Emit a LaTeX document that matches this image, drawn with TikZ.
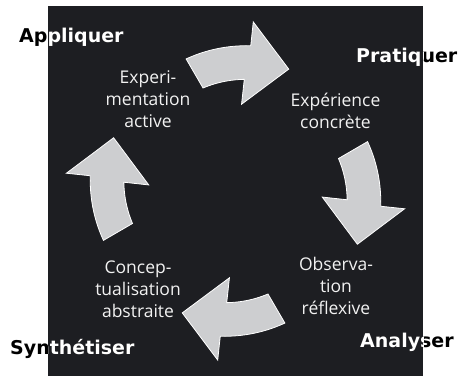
\documentclass[tikz,border=0pt]{standalone}
\usepackage{fontspec}
\setmainfont{Open Sans}
\newfontfamily\labelfont{DejaVu Sans}
\definecolor{bg}{HTML}{1D1E22}
\definecolor{arrowfill}{HTML}{CDCED0}
\definecolor{bodytext}{HTML}{F2F2F2}
\tikzset{
  arrowstyle/.style={fill=arrowfill, draw=white, line width=0.8pt, line join=miter},
  lbl/.style={anchor=base west, inner sep=0pt, font=\labelfont\bfseries\fontsize{19}{22}\selectfont},
  body/.style={inner sep=0pt, align=center, text=bodytext, font=\fontsize{17.5}{22}\selectfont}
}
\newcommand\cyclearrow[1]{%
  \begin{scope}[shift={(235.5,191)}, rotate=#1]
    \path[arrowstyle] plot[domain=0:1, samples=14] ({-110.5+26.5*\x}:{141+5*\x})
      -- (-84:170) -- (-66.4:133) -- (-86:87)
      -- plot[domain=1:0, samples=14] ({-107.5+22*\x}:{108+4*\x}) -- cycle;
  \end{scope}}
\begin{document}
\begin{tikzpicture}[x=1pt, y=-1pt]
  \useasboundingbox (0,0) rectangle (458,377);
  \fill[bg] (48,6) rectangle (423,376);
  \cyclearrow{0}
  \cyclearrow{90}
  \cyclearrow{180}
  \cyclearrow{270}
  % body texts
  \node[body] (ea) at (148,99.5) {Experi-\\mentation\\active};
  \node[body] (ec) at (335.5,111) {Expérience\\concrète};
  \node[body] (or) at (336,285.5) {Observa-\\tion\\réflexive};
  \node[body] (ca) at (138,289) {Concep-\\tualisation\\abstraite};
  % stage labels (black outside, white inside the square)
  \node[lbl, text=black] (appliquer) at (19,43) {Appliquer};
  \node[lbl, text=black] (pratiquer) at (356,63) {Pratiquer};
  \node[lbl, text=black] (synth) at (10,354) {Synthétiser};
  \node[lbl, text=black] (analyser) at (360,347) {Analyser};
  \begin{scope}
    \clip (48,6) rectangle (423,376);
    \node[lbl, text=white] (appliquerW) at (19,43) {Appliquer};
    \node[lbl, text=white] (pratiquerW) at (356,63) {Pratiquer};
    \node[lbl, text=white] (synthW) at (10,354) {Synthétiser};
    \node[lbl, text=white] (analyserW) at (360,347) {Analyser};
  \end{scope}
\end{tikzpicture}
\end{document}
